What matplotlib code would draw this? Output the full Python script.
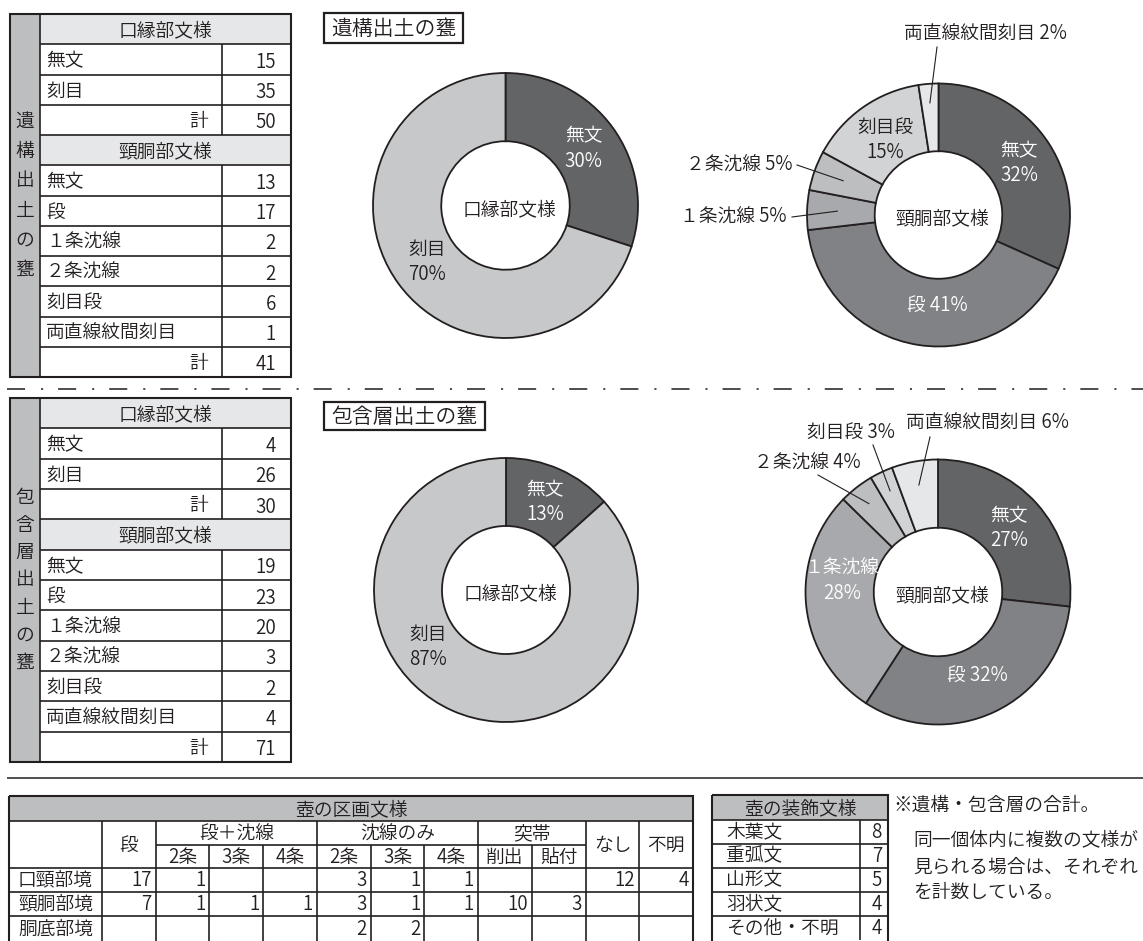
import matplotlib
matplotlib.use('Agg')
import matplotlib.pyplot as plt
from matplotlib.patches import Rectangle
import numpy as np

plt.rcParams['font.family'] = ['Noto Sans CJK JP', 'DejaVu Sans']
plt.rcParams['font.weight'] = 350
plt.rcParams['lines.scale_dashes'] = False

# ---------------- data ----------------
rim_categories = ['無文', '刻目']
rim_feature = [15, 35]      # 遺構出土の甕 口縁部文様
rim_layer = [4, 26]         # 包含層出土の甕 口縁部文様

neck_categories = ['無文', '段', '１条沈線', '２条沈線', '刻目段', '両直線紋間刻目']
neck_feature = [13, 17, 2, 2, 6, 1]     # 遺構出土の甕 頸胴部文様
neck_layer = [19, 23, 20, 3, 2, 4]      # 包含層出土の甕 頸胴部文様

jar_rows = ['口頸部境', '頸胴部境', '胴底部境']
jar_groups = ['段', '段＋沈線', '沈線のみ', '突帯', 'なし', '不明']
jar_subs = [[], ['2条', '3条', '4条'], ['2条', '3条', '4条'], ['削出', '貼付'], [], []]
jar_values = [
    [17, 1, None, None, 3, 1, 1, None, None, 12, 4],
    [7, 1, 1, 1, 3, 1, 1, 10, 3, None, None],
    [None, None, None, None, 2, 2, None, None, None, None, None],
]

deco_categories = ['木葉文', '重弧文', '山形文', '羽状文', 'その他・不明']
deco_values = [8, 7, 5, 4, 4]

notes = ['※遺構・包含層の合計。', '同一個体内に複数の文様が', '見られる場合は、それぞれ', 'を計数している。']

# ---------------- style ----------------
W, H, DPI = 1143, 941, 100
LINE = '#231f20'
TXT = '#231f20'
COL_SIDE = '#bcbec0'
COL_HEAD = '#e6e7e8'
rim_colors = ['#636466', '#c7c8ca']
neck_colors = ['#636466', '#808285', '#a7a9ac', '#bcbec0', '#d1d3d4', '#e6e7e8']
FS = 13.5
RING = 0.515

fig = plt.figure(figsize=(W / DPI, H / DPI), dpi=DPI)
ax = fig.add_axes([0, 0, 1, 1])
ax.set_xlim(0, W)
ax.set_ylim(H, 0)
ax.axis('off')
ax.set_zorder(10)


def hline(x0, x1, y, lw=1.2, color=LINE):
    ax.plot([x0, x1], [y, y], color=color, lw=lw, solid_capstyle='butt')


def vline(x, y0, y1, lw=1.2, color=LINE):
    ax.plot([x, x], [y0, y1], color=color, lw=lw, solid_capstyle='butt')


def txt(x, y, s, ha='center', va='center', color=TXT, size=FS, **kw):
    ax.text(x, y, s, ha=ha, va=va, color=color, fontsize=size, **kw)


# ---------------- left tables ----------------
def left_table(x0, y0, y1, side_label, rim_vals, neck_vals, step):
    xl, xv, x1 = x0 + 30, 222, 291
    rows = [('head', '口縁部文様', None)]
    rows += [('data', c, v) for c, v in zip(rim_categories, rim_vals)]
    rows.append(('total', '計', sum(rim_vals)))
    rows.append(('head', '頸胴部文様', None))
    rows += [('data', c, v) for c, v in zip(neck_categories, neck_vals)]
    rows.append(('total', '計', sum(neck_vals)))
    rh = (y1 - y0) / len(rows)
    ax.add_patch(Rectangle((x0, y0), xl - x0, y1 - y0, fc=COL_SIDE, ec='none'))
    for i, (kind, lab, val) in enumerate(rows):
        ya = y0 + i * rh
        yc = ya + rh / 2 + 1.5
        if kind == 'head':
            ax.add_patch(Rectangle((xl, ya), x1 - xl, rh, fc=COL_HEAD, ec='none'))
            txt((xl + x1) / 2, yc, lab)
        else:
            if kind == 'data':
                txt(xl + 6, yc, lab, ha='left')
            else:
                txt(xv - 14, yc, lab, ha='right')
            txt(x1 - 15, yc + 1.5, str(val), ha='right')
            vline(xv, ya, ya + rh)
        if i > 0:
            hline(xl, x1, ya)
    vline(xl, y0, y1)
    ax.add_patch(Rectangle((x0, y0), x1 - x0, y1 - y0, fc='none', ec=LINE, lw=1.5))
    n = len(side_label)
    ym = (y0 + y1) / 2
    for k, ch in enumerate(side_label):
        txt((x0 + xl) / 2, ym + (k - (n - 1) / 2) * step, ch)


left_table(10, 14, 377, '遺構出土の甕', rim_feature, neck_feature, 29.5)
left_table(10, 398, 762, '包含層出土の甕', rim_layer, neck_layer, 27.5)

# ---------------- titles ----------------
for (bx0, by0, bx1, by1, s) in [(324, 13, 463, 43, '遺構出土の甕'),
                                (324, 402, 485, 430, '包含層出土の甕')]:
    ax.add_patch(Rectangle((bx0, by0), bx1 - bx0, by1 - by0, fc='white', ec=LINE, lw=1.6))
    txt((bx0 + bx1) / 2, (by0 + by1) / 2 + 1, s, size=15)

# ---------------- separators ----------------
ax.plot([7, W], [389, 389], color='#4d4d4f', lw=1.4, dashes=(13, 11.5, 1.5, 10.8),
        solid_capstyle='butt', dash_capstyle='butt')
hline(7, W, 778, lw=1.1)


# ---------------- donuts ----------------
def donut(cx, cy, r, values, colors, cats, center_label, inside, outside):
    pad = 1.03
    axp = fig.add_axes([(cx - r * pad) / W, 1 - (cy + r * pad) / H,
                        2 * r * pad / W, 2 * r * pad / H])
    axp.pie(values, colors=colors, startangle=90, counterclock=False, radius=1,
            wedgeprops=dict(width=RING, edgecolor=LINE, linewidth=1.3))
    axp.set_xlim(-pad, pad)
    axp.set_ylim(-pad, pad)
    axp.set_aspect('auto')
    axp.axis('off')
    total = float(sum(values))
    cum = np.concatenate([[0], np.cumsum(values)])
    mids = [90 - (cum[i] + values[i] / 2) / total * 360 for i in range(len(values))]
    pcts = [int(round(v / total * 100)) for v in values]
    axp.text(0.03, -0.03, center_label, ha='center', va='center', color=TXT, fontsize=FS)
    for i, (ang, rf, two, col) in inside.items():
        a = np.deg2rad(mids[i] if ang is None else ang)
        s = f'{cats[i]}\n{pcts[i]}%' if two else f'{cats[i]} {pcts[i]}%'
        axp.text(rf * np.cos(a), rf * np.sin(a), s, ha='center', va='center',
                 color=col, fontsize=FS, linespacing=1.25)
    for i, (tx, ty, ha, sx, sy, rf) in outside.items():
        txt(tx, ty, f'{cats[i]} {pcts[i]}%', ha=ha)
        a = np.deg2rad(mids[i])
        ax.plot([sx, cx + r * rf * np.cos(a)], [sy, cy - r * rf * np.sin(a)],
                color=LINE, lw=0.8)


donut(505.5, 205.5, 132.5, rim_feature, rim_colors, rim_categories, '口縁部文様',
      {0: (None, 0.73, True, 'white'), 1: (216, 0.73, True, TXT)}, {})
donut(506, 590, 132, rim_layer, rim_colors, rim_categories, '口縁部文様',
      {0: (None, 0.73, True, 'white'), 1: (216, 0.73, True, TXT)}, {})
donut(938.5, 215, 131.5, neck_feature, neck_colors, neck_categories, '頸胴部文様',
      {0: (None, 0.73, True, 'white'), 1: (-91, 0.69, False, 'white'),
       4: (None, 0.70, True, TXT)},
      {2: (787, 217, 'right', 792, 217, 0.77),
       3: (793, 165, 'right', 797, 165, 0.77),
       5: (985, 34, 'center', 937, 47, 0.855)})
donut(938, 592, 132.5, neck_layer, neck_colors, neck_categories, '頸胴部文様',
      {0: (None, 0.72, True, 'white'), 1: (None, 0.70, False, 'white'),
       2: (173.5, 0.73, True, 'white')},
      {3: (807, 463, 'center', 818, 475, 0.847),
       4: (851, 432, 'center', 873, 445, 0.845),
       5: (987, 423, 'center', 930, 437, 0.82)})

# ---------------- bottom table: 壺の区画文様 ----------------
kx = [9, 102] + [102 + (693 - 102) / 11 * k for k in range(1, 12)]
ky = [796, 821, 845, 868, 892, 916, 943]
ax.add_patch(Rectangle((kx[0], ky[0]), kx[-1] - kx[0], ky[1] - ky[0], fc=COL_SIDE, ec='none'))
txt((kx[0] + kx[-1]) / 2, (ky[0] + ky[1]) / 2 + 1, '壺の区画文様')
hline(kx[0], kx[-1], ky[1])
c = 1
for g, subs in zip(jar_groups, jar_subs):
    n = max(1, len(subs))
    xa, xb = kx[c], kx[c + n]
    if subs:
        txt((xa + xb) / 2, (ky[1] + ky[2]) / 2 + 1, g)
        hline(xa, xb, ky[2])
        for k, s in enumerate(subs):
            txt((kx[c + k] + kx[c + k + 1]) / 2, (ky[2] + ky[3]) / 2 + 1, s)
            if k > 0:
                vline(kx[c + k], ky[2], ky[-1])
    else:
        txt((xa + xb) / 2, (ky[1] + ky[3]) / 2 + 1, g)
    vline(xa, ky[1], ky[-1])
    c += n
for y in ky[3:6]:
    hline(kx[0], kx[-1], y)
for r_i, (name, vals) in enumerate(zip(jar_rows, jar_values)):
    yc = (ky[3 + r_i] + ky[4 + r_i]) / 2
    txt((kx[0] + kx[1]) / 2, yc, name)
    for j, v in enumerate(vals):
        if v is not None:
            txt(kx[j + 2] - 4, yc, str(v), ha='right')
ax.add_patch(Rectangle((kx[0], ky[0]), kx[-1] - kx[0], ky[-1] - ky[0], fc='none', ec=LINE, lw=1.5))

# ---------------- bottom table: 壺の装飾文様 ----------------
dx0, dxv, dx1 = 712, 860, 888
dy = [795, 820] + [820 + 24 * k for k in range(1, 6)]
ax.add_patch(Rectangle((dx0, dy[0]), dx1 - dx0, dy[1] - dy[0], fc=COL_SIDE, ec='none'))
txt((dx0 + dx1) / 2, (dy[0] + dy[1]) / 2 + 1, '壺の装飾文様')
for i, (cname, v) in enumerate(zip(deco_categories, deco_values)):
    ya, yb = dy[1 + i], dy[2 + i]
    hline(dx0, dx1, ya)
    vline(dxv, ya, yb)
    txt(dx0 + 14, (ya + yb) / 2, cname, ha='left')
    txt(dx1 - 6, (ya + yb) / 2, str(v), ha='right')
ax.add_patch(Rectangle((dx0, dy[0]), dx1 - dx0, dy[-1] + 3 - dy[0], fc='none', ec=LINE, lw=1.5))

# ---------------- notes ----------------
for i, (s, x, y) in enumerate(zip(notes, [893, 913, 913, 913], [805, 840, 867, 892])):
    txt(x, y, s, ha='left')

fig.savefig('out.png', dpi=DPI)
